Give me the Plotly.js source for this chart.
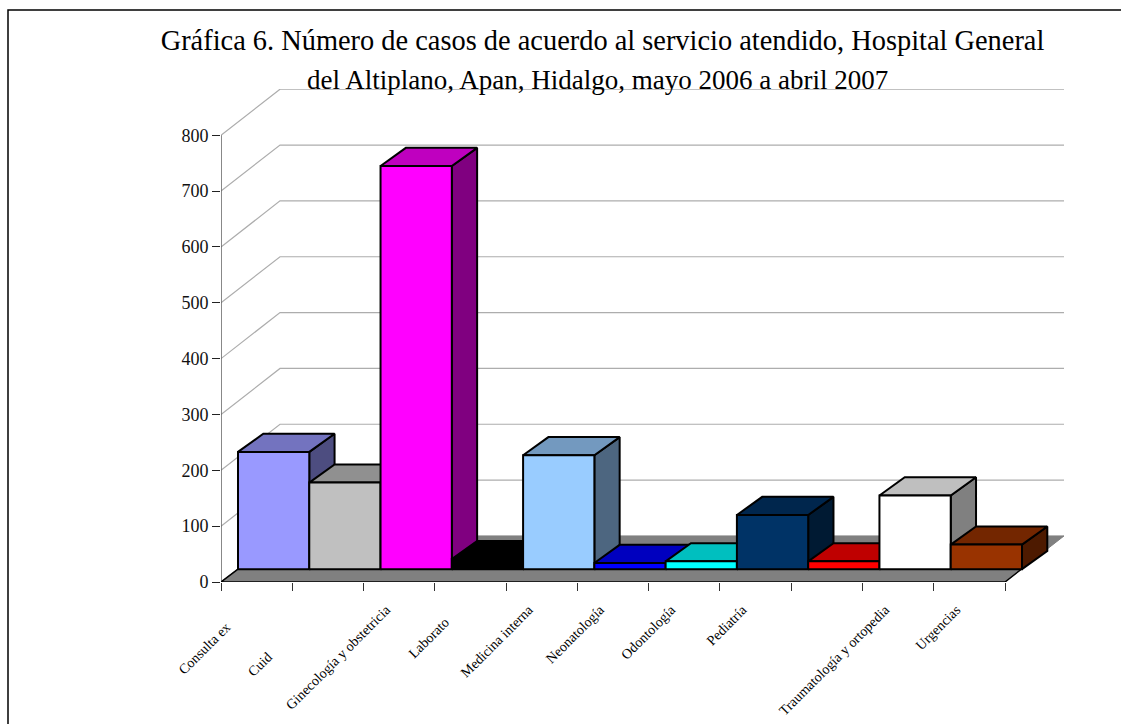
<!DOCTYPE html>
<html>
<head>
<meta charset="utf-8">
<title>Casos por servicio</title>
<script src="https://cdn.plot.ly/plotly-3.0.1.min.js"></script>
<style>
  html, body { margin: 0; padding: 0; background: #fff; }
  #chart { width: 1121px; height: 724px; }
</style>
</head>
<body>
<div id="chart"></div>
<script>
// Casos atendidos por servicio
const servicios = ["Consulta ex", "Cuid", "Ginecología y obstetricia", "Laborato",
  "Medicina interna", "Neonatología", "Odontología", "Pediatría", "",
  "Traumatología y ortopedia", "Urgencias"];
// Labels cut short on the page sit further back along their slant
const relleno = [7, 19, 0, 5, 0, 0, 0, 0, 0, 0, 0];
const casos = [210, 155, 722, 18, 204, 11, 14, 97, 14, 132, 44];
const colores = ["#9999ff", "#c0c0c0", "#ff00ff", "#000000", "#99ccff", "#0000ff",
  "#00ffff", "#003366", "#ff0000", "#ffffff", "#993300"];
const marcasY = [0, 100, 200, 300, 400, 500, 600, 700, 800];

const titulo1 = "Gráfica 6. Número de casos de acuerdo al servicio atendido, Hospital General";
const titulo2 = "del Altiplano, Apan, Hidalgo, mayo 2006 a abril 2007";

// Oblique projection, in axis units
const FONDO_X = 0.828, FONDO_Y = 82.5;     // wall depth
const BASE_X = 0.2385, BASE_Y = 23;        // bar front inset from the floor edge
const CAJA_X = 0.355, CAJA_Y = 32.5;       // bar depth
const N = servicios.length;
const serif = '"Liberation Serif", "Times New Roman", serif';

function sombra(hex, f) {
  const n = parseInt(hex.slice(1), 16);
  const c = [n >> 16, (n >> 8) & 255, n & 255].map(v => Math.round(v * f));
  return "rgb(" + c.join(",") + ")";
}

function cara(xs, ys, relleno) {
  return { type: "scatter", mode: "lines", x: xs, y: ys, fill: "toself", fillcolor: relleno,
    line: { color: "#000", width: 2 }, hoverinfo: "skip", showlegend: false, cliponaxis: false };
}

const trazos = [];

// Gridlines along the side wall and the back wall
const gx = [], gy = [];
marcasY.forEach(v => {
  if (v > 0) { gx.push(0, FONDO_X, N + FONDO_X, null); gy.push(v, v + FONDO_Y, v + FONDO_Y, null); }
});
trazos.push({ type: "scatter", mode: "lines", x: gx, y: gy, line: { color: "#adadad", width: 1.2 },
  hoverinfo: "skip", showlegend: false, cliponaxis: false });

// Vertical axis line
trazos.push({ type: "scatter", mode: "lines", x: [0, 0], y: [0, 800], line: { color: "#606060", width: 1.5 },
  hoverinfo: "skip", showlegend: false, cliponaxis: false });

// Floor
trazos.push({ type: "scatter", mode: "lines", x: [0, N, N + FONDO_X, FONDO_X, 0], y: [0, 0, FONDO_Y, FONDO_Y, 0],
  fill: "toself", fillcolor: "#808080", line: { color: "#808080", width: 1 },
  hoverinfo: "skip", showlegend: false, cliponaxis: false });
trazos.push({ type: "scatter", mode: "lines", x: [BASE_X, 0, N, N + FONDO_X * 0.55], y: [BASE_Y, 0, 0, FONDO_Y * 0.55],
  line: { color: "#000", width: 1.5 }, hoverinfo: "skip", showlegend: false, cliponaxis: false });

// Bars, left to right so each one covers the side of the previous one
casos.forEach((v, k) => {
  const x0 = k + BASE_X, x1 = x0 + 1, y0 = BASE_Y, y1 = BASE_Y + v;
  const col = colores[k];
  trazos.push(cara([x1, x1 + CAJA_X, x1 + CAJA_X, x1, x1], [y0, y0 + CAJA_Y, y1 + CAJA_Y, y1, y0], sombra(col, 0.5)));
  trazos.push(cara([x0, x1, x1 + CAJA_X, x0 + CAJA_X, x0], [y1, y1, y1 + CAJA_Y, y1 + CAJA_Y, y1], sombra(col, 0.75)));
  trazos.push(cara([x0, x1, x1, x0, x0], [y0, y0, y1, y1, y0], col));
});

// Pixel helpers for the frame and page-level text
const L = 221, R = 1064, T = 89, B = 582;
const px = p => (p - L) / (R - L);
const py = p => (B - p) / (B - T);

const layout = {
  width: 1121, height: 724, paper_bgcolor: "#fff", plot_bgcolor: "rgba(0,0,0,0)",
  margin: { l: L, r: 1121 - R, t: T, b: 724 - B, pad: 0 },
  showlegend: false, hovermode: false,
  font: { family: serif, color: "#000" },
  title: { text: titulo1, x: 602.5 / 1121, xanchor: "center", y: 1 - 40 / 724, yanchor: "middle",
    xref: "container", yref: "container", font: { family: serif, size: 28.4, color: "#000" } },
  xaxis: {
    range: [0, (R - L) / (784 / N)], showgrid: false, zeroline: false, showline: false,
    tickmode: "array", tickvals: servicios.map((_, k) => k + 0.5),
    ticktext: servicios.map((s, k) => s + "\u00a0".repeat(relleno[k])),
    ticks: "", tickangle: -45, ticklabelstandoff: 16, ticklabelshift: -13,
    tickfont: { family: serif, size: 14, color: "#000" },
    minor: { ticks: "outside", tick0: 0, dtick: 1, ticklen: 8, tickwidth: 1, tickcolor: "#333", showgrid: false },
    fixedrange: true, automargin: false
  },
  yaxis: {
    range: [0, (B - T) / 0.5584], showgrid: false, zeroline: false, showline: false,
    tickmode: "array", tickvals: marcasY, ticks: "outside", ticklen: 8, tickwidth: 1, tickcolor: "#222",
    tickfont: { family: serif, size: 18, color: "#111" },
    fixedrange: true, automargin: false
  },
  annotations: [{
    text: titulo2, xref: "paper", yref: "paper", x: px(597.5), y: py(80), xanchor: "center", yanchor: "middle",
    showarrow: false, font: { family: serif, size: 27, color: "#000" }
  }],
  shapes: [{
    type: "path", xref: "paper", yref: "paper", layer: "above",
    path: "M " + px(8) + " " + py(724) + " L " + px(8) + " " + py(10) + " L " + px(1121) + " " + py(10),
    line: { color: "#000", width: 1.5 }
  }]
};

Plotly.newPlot("chart", trazos, layout, { displayModeBar: false, staticPlot: true });
</script>
</body>
</html>
